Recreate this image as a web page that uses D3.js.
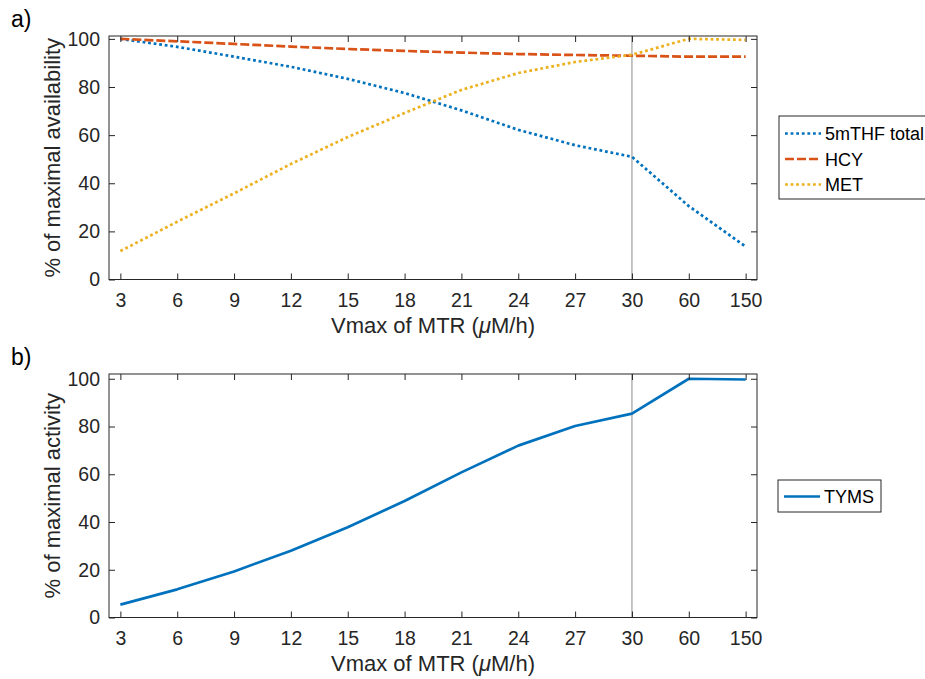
<!DOCTYPE html>
<html>
<head>
<meta charset="utf-8">
<script src="https://cdn.jsdelivr.net/npm/d3@7"></script>
<style>
  html, body { margin: 0; padding: 0; background: #fff; }
  svg { display: block; font-family: "Liberation Sans", Arial, Helvetica, sans-serif; }
</style>
</head>
<body>
<svg id="chart" width="925" height="679"></svg>
<script>
// ---- data ----
const categories = ["3", "6", "9", "12", "15", "18", "21", "24", "27", "30", "60", "150"];
const thfTotal = [100, 96.7, 92.6, 88.4, 83.4, 77.5, 70.3, 62.2, 55.8, 51.0, 30.5, 13.7];
const hcy      = [100, 99.0, 97.9, 96.8, 95.8, 95.0, 94.3, 93.7, 93.3, 93.0, 92.6, 92.6];
const met      = [11.8, 24.0, 35.8, 48.0, 59.2, 69.2, 78.8, 85.8, 90.4, 93.4, 100, 99.6];
const tyms     = [5.4, 11.8, 19.3, 28.0, 37.8, 48.8, 60.8, 72.0, 80.2, 85.4, 100, 99.7];
const yTicks = [0, 20, 40, 60, 80, 100];
const refCategory = "30";

const seriesTop = [
  { name: "5mTHF total", values: thfTotal, color: "#0072BD", dash: "2.8,2.8", width: 2.7 },
  { name: "HCY", values: hcy, color: "#D95319", dash: "9,3", width: 2.7 },
  { name: "MET", values: met, color: "#EDB120", dash: "2.8,2.8", width: 2.7 }
];
const seriesBottom = [
  { name: "TYMS", values: tyms, color: "#0072BD", dash: null, width: 2.7 }
];

const svg = d3.select("#chart");
const axisColor = "#262626";

function panel(cfg) {
  const { left, right, top, bottom, ymax, series, ylabel, tag, legend } = cfg;
  const x = d3.scaleLinear().domain([-0.2, categories.length - 1 + 0.2]).range([left, right]);
  const y = d3.scaleLinear().domain([0, ymax]).range([bottom, top]);
  const g = svg.append("g");

  // vertical reference line
  const xr = x(categories.indexOf(refCategory));
  g.append("line").attr("x1", xr).attr("x2", xr).attr("y1", top).attr("y2", bottom)
    .attr("stroke", "#a6a6a6").attr("stroke-width", 1.3);

  // series
  const line = d3.line().x((d, i) => x(i)).y(d => y(d));
  series.forEach(s => {
    g.append("path").datum(s.values).attr("d", line)
      .attr("fill", "none").attr("stroke", s.color).attr("stroke-width", s.width)
      .attr("stroke-dasharray", s.dash).attr("stroke-linejoin", "round");
  });

  // axes (MATLAB style: ticks inside, box)
  const idx = d3.range(categories.length);
  const xb = d3.axisBottom(x).tickValues(idx).tickFormat(i => categories[i]).tickSizeInner(-6).tickSizeOuter(0).tickPadding(14);
  const xt = d3.axisTop(x).tickValues(idx).tickFormat("").tickSizeInner(-6).tickSizeOuter(0);
  const yl = d3.axisLeft(y).tickValues(yTicks).tickSizeInner(-6).tickSizeOuter(0).tickPadding(9);
  const yr = d3.axisRight(y).tickValues(yTicks).tickFormat("").tickSizeInner(-6).tickSizeOuter(0);

  const ax = [
    g.append("g").attr("transform", `translate(0,${bottom})`).call(xb),
    g.append("g").attr("transform", `translate(0,${top})`).call(xt),
    g.append("g").attr("transform", `translate(${left},0)`).call(yl),
    g.append("g").attr("transform", `translate(${right},0)`).call(yr)
  ];
  ax.forEach(a => {
    a.select(".domain").remove();
    a.selectAll("line").attr("stroke", axisColor).attr("stroke-width", 1);
    a.selectAll("text").attr("fill", axisColor).style("font-size", "19.5px")
      .style("font-family", "Liberation Sans, Arial, sans-serif");
  });
  g.append("rect").attr("x", left).attr("y", top).attr("width", right - left).attr("height", bottom - top)
    .attr("fill", "none").attr("stroke", axisColor).attr("stroke-width", 1);

  // x label
  const xt2 = g.append("text").attr("x", (left + right) / 2).attr("y", bottom + 53)
    .attr("text-anchor", "middle").attr("fill", axisColor).style("font-size", "22px");
  xt2.append("tspan").text("Vmax of MTR (");
  xt2.append("tspan").text("μ").style("font-style", "italic");
  xt2.append("tspan").text("M/h)");

  // y label
  g.append("text").attr("transform", `translate(60,${(top + bottom) / 2}) rotate(-90)`)
    .attr("text-anchor", "middle").attr("fill", axisColor).style("font-size", "22px").text(ylabel);

  // panel tag
  g.append("text").attr("x", 11).attr("y", top - 9).attr("fill", "#000").style("font-size", "23px").text(tag);

  // legend
  const lg = svg.append("g");
  lg.append("rect").attr("x", legend.x).attr("y", legend.y).attr("width", legend.w).attr("height", legend.h)
    .attr("fill", "#fff").attr("stroke", axisColor).attr("stroke-width", 1);
  series.forEach((s, i) => {
    const by = legend.firstBase + i * legend.step;
    lg.append("line").attr("x1", legend.x + 6).attr("x2", legend.x + 42).attr("y1", by - 6.5).attr("y2", by - 6.5)
      .attr("stroke", s.color).attr("stroke-width", s.width).attr("stroke-dasharray", s.dash);
    lg.append("text").attr("x", legend.x + 46).attr("y", by).attr("fill", "#000")
      .style("font-size", "18px").text(s.name);
  });
}

panel({ left: 109, right: 757, top: 36, bottom: 279.5, ymax: 101.2, series: seriesTop,
  ylabel: "% of maximal availability", tag: "a)",
  legend: { x: 779, y: 116, w: 170, h: 83, firstBase: 140, step: 25.5 } });

panel({ left: 109, right: 757, top: 374, bottom: 617.5, ymax: 102, series: seriesBottom,
  ylabel: "% of maximal activity", tag: "b)",
  legend: { x: 778, y: 480, w: 103, h: 32, firstBase: 503, step: 26 } });
</script>
</body>
</html>
